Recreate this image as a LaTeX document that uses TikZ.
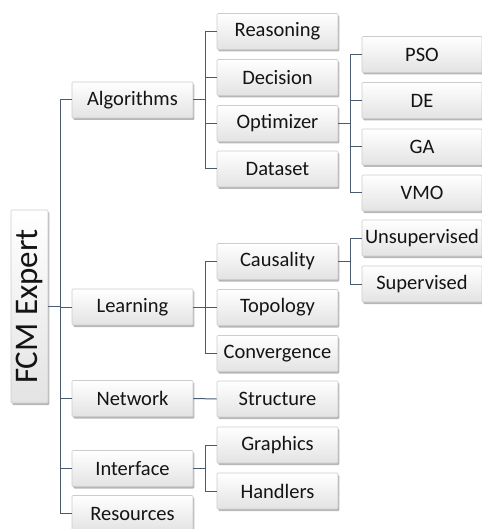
\documentclass[tikz,border=0pt]{standalone}
\usepackage{fontspec}
\setmainfont{Carlito}
\usetikzlibrary{shadows}
\definecolor{conn}{HTML}{4A5A70}
\tikzset{
  box/.style={draw=gray!40, line width=0.6pt, top color=white, bottom color=gray!22,
    minimum width=121pt, minimum height=36pt, inner sep=0pt, rounded corners=1pt,
    font=\fontsize{20.5}{24}\selectfont, text=black!92,
    drop shadow={shadow xshift=1.4pt, shadow yshift=-2pt, fill=gray!75, opacity=0.75}},
  leaf/.style={box, minimum width=120pt},
  rootbox/.style={box, minimum width=37pt, minimum height=193pt, font=\fontsize{33}{36}\selectfont},
  link/.style={draw=conn, line width=1pt}
}
\begin{document}
\begin{tikzpicture}[x=1pt,y=-1pt]
\useasboundingbox (0,0) rectangle (481,529);
% root
\node[rootbox] (root) at (29.5,306.5) {\rotatebox{90}{FCM Expert}};
% level 1
\node[box] (alg) at (132.5,100) {Algorithms};
\node[box] (lea) at (132.5,307) {Learning};
\node[box] (net) at (132.5,398.5) {Network};
\node[box] (int) at (132.5,468.5) {Interface};
\node[box] (res) at (132.5,513.5) {Resources};
% level 2
\node[box] (rea) at (277.5,31.5) {Reasoning};
\node[box] (dec) at (277.5,77.5) {Decision};
\node[box] (opt) at (277.5,123.5) {Optimizer};
\node[box] (dat) at (277.5,169) {Dataset};
\node[box] (cau) at (277.5,261.5) {Causality};
\node[box] (top) at (277.5,307.5) {Topology};
\node[box] (con) at (277.5,353.5) {Convergence};
\node[box] (str) at (277.5,399) {Structure};
\node[box] (gra) at (277.5,445) {Graphics};
\node[box] (han) at (277.5,491) {Handlers};
% level 3
\node[leaf] (pso) at (422,54.5) {PSO};
\node[leaf] (de)  at (422,100.5) {DE};
\node[leaf] (ga)  at (422,147) {GA};
\node[leaf] (vmo) at (422,193) {VMO};
\node[leaf] (uns) at (422,238) {Unsupervised};
\node[leaf] (sup) at (422,284) {Supervised};
% trunk coordinates
\coordinate (t0) at (60,0);
\coordinate (t2) at (205,0);
\coordinate (t3) at (350,0);
% root trunk
\draw[link] (root.east) -- (root.east -| t0);
\draw[link] (alg.west -| t0) -- (res.west -| t0);
\foreach \n in {alg,lea,net,int,res} \draw[link] (\n.west -| t0) -- (\n.west);
% algorithms
\draw[link] (alg.east) -- (alg.east -| t2);
\draw[link] (rea.west -| t2) -- (dat.west -| t2);
\foreach \n in {rea,dec,opt,dat} \draw[link] (\n.west -| t2) -- (\n.west);
% learning
\draw[link] (lea.east) -- (lea.east -| t2);
\draw[link] (cau.west -| t2) -- (con.west -| t2);
\foreach \n in {cau,top,con} \draw[link] (\n.west -| t2) -- (\n.west);
% network
\draw[link] (net.east) -- (str.west);
% interface
\draw[link] (int.east) -- (int.east -| t2);
\draw[link] (gra.west -| t2) -- (han.west -| t2);
\foreach \n in {gra,han} \draw[link] (\n.west -| t2) -- (\n.west);
% optimizer
\draw[link] (opt.east) -- (opt.east -| t3);
\draw[link] (pso.west -| t3) -- (vmo.west -| t3);
\foreach \n in {pso,de,ga,vmo} \draw[link] (\n.west -| t3) -- (\n.west);
% causality
\draw[link] (cau.east) -- (cau.east -| t3);
\draw[link] (uns.west -| t3) -- (sup.west -| t3);
\foreach \n in {uns,sup} \draw[link] (\n.west -| t3) -- (\n.west);
\end{tikzpicture}
\end{document}
